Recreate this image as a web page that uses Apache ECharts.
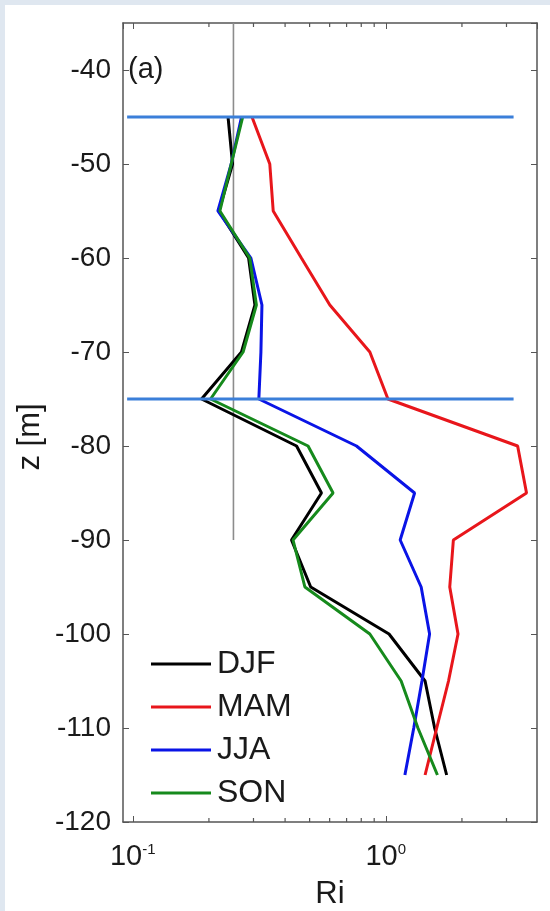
<!DOCTYPE html>
<html><head><meta charset="utf-8">
<script src="https://cdn.jsdelivr.net/npm/echarts@6/dist/echarts.min.js"></script>
<style>
html,body{margin:0;padding:0;background:#dfe7f0;width:550px;height:911px;overflow:hidden}
#bg{position:absolute;left:5px;top:5px;width:545px;height:906px;background:#fff}
#c{position:absolute;left:0;top:0;width:550px;height:911px}
</style>
</head><body><div id="bg"></div><div id="c"></div>
<script>
// depth levels (m)
const depth = [-45,-50,-55,-60,-65,-70,-75,-80,-85,-90,-95,-100,-105,-110,-115];
// Richardson number per season
const DJF = [0.238,0.248,0.219,0.287,0.304,0.269,0.187,0.444,0.557,0.424,0.505,1.03,1.43,1.56,1.74];
const MAM = [0.296,0.348,0.359,0.464,0.601,0.865,1.02,3.32,3.60,1.85,1.79,1.93,1.77,1.59,1.43];
const JJA = [0.269,0.245,0.217,0.293,0.324,0.321,0.315,0.766,1.30,1.14,1.38,1.49,1.39,1.29,1.19];
const SON = [0.272,0.245,0.221,0.290,0.308,0.273,0.203,0.493,0.619,0.430,0.479,0.865,1.15,1.34,1.60];
const seasons = ['DJF','MAM','JJA','SON'];
const seasonColors = ['#000000','#e8161b','#0a14e6','#168a1c'];
// reference lines
const layerDepths = [-45,-75];
const layerXRange = [0.095,3.2];
const ri025 = 0.25;
const ri025Depth = [-35,-90];
// axis ranges and ticks
const xRange = [0.0915,3.96];
const yRange = [-120,-35];
const yInterval = 10;
const minorTicks = [0.2,0.3,0.4,0.5,0.6,0.7,0.8,0.9,2,3];

const chart = echarts.init(document.getElementById('c'));
const FONT = 'Liberation Sans, Arial, Helvetica, sans-serif';
const TXT = '#1a1a1a';
const axisLabelX = {
  fontFamily: FONT, color:TXT, margin: 20,
  formatter: function(v){
    const e = Math.log10(v), r = Math.round(e);
    if (Math.abs(e-r) > 1e-6) return '';
    return '{b|10}{s|' + r + '}';
  },
  rich: {
    b:{fontSize:29, fontFamily:FONT, color:TXT, lineHeight:30},
    s:{fontSize:15, fontFamily:FONT, color:TXT, lineHeight:30, verticalAlign:'top', padding:[0,0,14,0]}
  },
  showMinLabel:false, showMaxLabel:false
};
const series = [];
seasons.forEach((name,k)=>{
  const vals = [DJF,MAM,JJA,SON][k];
  series.push({
    name, type:'line', data: depth.map((z,i)=>[vals[i], z]),
    showSymbol:false, symbol:'none', lineStyle:{color:seasonColors[k], width:3},
    itemStyle:{color:seasonColors[k]}, z:3+k, animation:false
  });
});
layerDepths.forEach(d=>{
  series.push({type:'line', data: layerXRange.map(x=>[x,d]), showSymbol:false, symbol:'none',
    lineStyle:{color:'#3b7fd9', width:3}, z:10, silent:true, animation:false});
});
series.push({type:'line', data: ri025Depth.map(d=>[ri025,d]), showSymbol:false, symbol:'none',
  lineStyle:{color:'#8c8c8c', width:1.6}, z:2, silent:true, animation:false});
series.push({type:'custom', data: minorTicks.map(v=>[v]), silent:true, animation:false, z:1,
  renderItem: function(params, api){
    const v = api.value(0);
    const b = api.coord([v, yRange[0]]), t = api.coord([v, yRange[1]]);
    const st = {stroke:'#555', lineWidth:1.2};
    return {type:'group', children:[
      {type:'line', shape:{x1:b[0],y1:b[1],x2:b[0],y2:b[1]-4}, style:st},
      {type:'line', shape:{x1:t[0],y1:t[1],x2:t[0],y2:t[1]+4}, style:st}
    ]};
  }
});

chart.setOption({
  animation:false,
  backgroundColor:'transparent',
  grid:{left:123, right:13, top:23, bottom:89, containLabel:false, outerBoundsMode:'none'},
  xAxis:[{
    type:'log', logBase:10, min:xRange[0], max:xRange[1], position:'bottom',
    name:'Ri', nameLocation:'middle', nameGap:57,
    nameTextStyle:{fontSize:31, fontFamily:FONT, color:TXT},
    axisLine:{show:true, lineStyle:{color:'#555', width:1.5}},
    axisTick:{show:true, inside:true, length:6, lineStyle:{color:'#555'}},
    axisLabel: axisLabelX,
    splitLine:{show:false}, minorTick:{show:false}
  },{
    type:'log', logBase:10, min:xRange[0], max:xRange[1], position:'top',
    axisLine:{show:true, lineStyle:{color:'#555', width:1.5}},
    axisTick:{show:true, inside:true, length:6, lineStyle:{color:'#555'}},
    axisLabel:{show:false}, splitLine:{show:false}
  }],
  yAxis:[{
    type:'value', min:yRange[0], max:yRange[1], interval:yInterval, position:'left',
    axisLine:{show:true, lineStyle:{color:'#555', width:1.5}},
    axisTick:{show:true, inside:true, length:6, lineStyle:{color:'#555'}},
    axisLabel:{fontSize:28, fontFamily:FONT, color:TXT, margin:12, showMaxLabel:false},
    splitLine:{show:false}
  },{
    type:'value', min:yRange[0], max:yRange[1], interval:yInterval, position:'right',
    axisLine:{show:true, lineStyle:{color:'#555', width:1.5}},
    axisTick:{show:true, inside:true, length:6, lineStyle:{color:'#555'}},
    axisLabel:{show:false}, splitLine:{show:false}
  }],
  legend:{
    data: seasons, orient:'vertical', left:146, top:643,
    icon:'rect', itemWidth:60, itemHeight:3, itemGap:11,
    textStyle:{fontSize:32, fontFamily:FONT, color:TXT, padding:[0,0,0,1]},
    backgroundColor:'#fff'
  },
  graphic:[
    {type:'text', left:128, top:55, style:{text:'(a)', fontSize:29, fontFamily:FONT, fill:TXT}},
    {type:'text', x:30, y:437, rotation:Math.PI/2, style:{text:'z [m]', fontSize:31, fontFamily:FONT, fill:TXT, align:'center', verticalAlign:'middle'}}
  ],
  series
});
</script></body></html>
